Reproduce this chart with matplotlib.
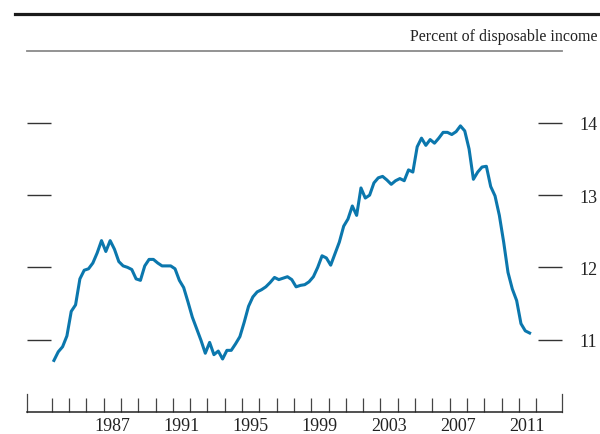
import matplotlib
matplotlib.use("Agg")
import matplotlib.pyplot as plt
from matplotlib.lines import Line2D
import numpy as np
import pandas as pd

# Quarterly data, 1984Q1 .. 2011Q3 (percent of disposable income)
start_quarter = "1984Q1"
values = [
    10.71, 10.83, 10.90, 11.05, 11.39, 11.48, 11.84, 11.96, 11.98, 12.06,
    12.20, 12.37, 12.22, 12.37, 12.25, 12.08, 12.02, 12.00, 11.97, 11.84,
    11.82, 12.02, 12.11, 12.11, 12.06, 12.02, 12.02, 12.02, 11.98, 11.82,
    11.72, 11.52, 11.31, 11.15, 10.99, 10.81, 10.96, 10.79, 10.84, 10.73,
    10.85, 10.85, 10.94, 11.04, 11.24, 11.46, 11.59, 11.66, 11.69, 11.73,
    11.79, 11.86, 11.83, 11.85, 11.87, 11.83, 11.73, 11.75, 11.76, 11.80,
    11.87, 12.00, 12.16, 12.13, 12.03, 12.19, 12.35, 12.57, 12.67, 12.85,
    12.72, 13.10, 12.96, 13.00, 13.17, 13.24, 13.26, 13.21, 13.15, 13.20,
    13.23, 13.20, 13.35, 13.32, 13.67, 13.79, 13.69, 13.77, 13.72, 13.79,
    13.87, 13.87, 13.84, 13.88, 13.96, 13.89, 13.64, 13.22, 13.32, 13.39,
    13.40, 13.12, 12.99, 12.72, 12.35, 11.93, 11.70, 11.54, 11.22, 11.12,
    11.09,
]
year_labels = ["1987", "1991", "1995", "1999", "2003", "2007", "2011"]
y_ticks = [11, 12, 13, 14]
unit_label = "Percent of disposable income"

periods = pd.period_range(start_quarter, periods=len(values), freq="Q")
x = np.array([p.year + (p.quarter - 0.5) / 4.0 for p in periods])

W, H = 600, 435
fig = plt.figure(figsize=(6.0, 4.35), dpi=100)
plt.rcParams["font.family"] = ["Liberation Serif", "DejaVu Serif"]

left_px, right_px, top_px, bot_px = 26.7, 561.7, 51.8, 412.7
ax = fig.add_axes([left_px / W, 1 - bot_px / H,
                   (right_px - left_px) / W, (bot_px - top_px) / H])

ax.plot(x, values, color="#0b77ad", lw=2.2, solid_joinstyle="round")

x0, x1 = 1982.55, 2013.48
ax.set_xlim(x0, x1)
ax.set_ylim(10, 15)

# spines
for s in ["left", "right"]:
    ax.spines[s].set_visible(False)
ax.spines["top"].set_color("#8a8a8a")
ax.spines["top"].set_linewidth(1.3)
ax.spines["bottom"].set_color("#222222")
ax.spines["bottom"].set_linewidth(1.1)

# x ticks: yearly minor ticks pointing in, labels at mid-year
ax.set_xticks([int(y) + 0.5 for y in year_labels])
ax.set_xticklabels(year_labels, fontsize=13)
ax.tick_params(axis="x", which="major", length=0, pad=4, colors="#222222")
ax.set_xticks(np.arange(1984, 2013), minor=True)
ax.tick_params(axis="x", which="minor", direction="in", length=9.9,
               width=0.9, color="#444444")
for xe in (x0, x1):
    ax.axvline(xe, ymin=0, ymax=17.7 / (bot_px - top_px), color="#444444",
               lw=0.9, clip_on=False)

# y ticks on both sides, labels right
ax.set_yticks(y_ticks)
ax.set_yticklabels([str(v) for v in y_ticks], fontsize=13)
ax.tick_params(axis="y", which="major", direction="in", length=17.3,
               width=1.0, color="#333333", left=True, right=True,
               labelleft=False, labelright=True, pad=12.5,
               labelcolor="#222222")

# header rule and unit label
fig.add_artist(Line2D([14.5 / W, 1.0], [1 - 15 / H, 1 - 15 / H],
                      color="#1a1a1a", lw=2.3, transform=fig.transFigure))
fig.text(597 / W, 1 - 41 / H, unit_label, ha="right", va="baseline",
         fontsize=11.5, color="#222222")

fig.savefig("out.png", dpi=100)
